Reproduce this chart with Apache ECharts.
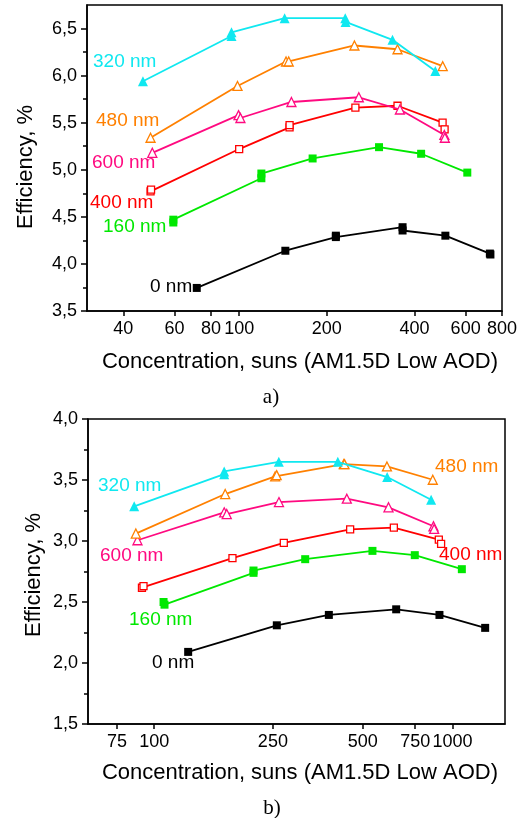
<!DOCTYPE html>
<html><head><meta charset="utf-8">
<script src="https://cdn.jsdelivr.net/npm/echarts@6/dist/echarts.min.js"></script>
<style>html,body{margin:0;padding:0;background:#fff}#c{width:523px;height:818px}</style>
</head><body><div id="c"></div>
<script>
// ---------- data ----------
const seriesNames = ['320 nm', '480 nm', '600 nm', '400 nm', '160 nm', '0 nm'];

// Panel a) : [concentration (suns), efficiency (%)]
const a_320 = [[46.7,5.94],[94.1,6.42],[94.1,6.46],[143.3,6.61],[231.5,6.61],[232,6.57],[336.4,6.38],[472,6.05]];
const a_480 = [[49.6,5.34],[98.7,5.89],[144.9,6.15],[148,6.15],[248.9,6.32],[350,6.28],[500.5,6.10]];
const a_600 = [[50.3,5.18],[99.5,5.58],[101,5.55],[151.2,5.72],[257.7,5.77],[356.7,5.64],[507,5.37],[509,5.34]];
const a_400 = [[49.6,4.77],[49.8,4.79],[100,5.22],[149,5.45],[149,5.475],[250.8,5.66],[350,5.68],[500,5.50],[508,5.43]];
const a_160 = [[59.4,4.44],[59.4,4.47],[119.2,4.91],[119.2,4.96],[178.8,5.12],[302.4,5.24],[421.9,5.17],[607.9,4.97]];
const a_0   = [[71.5,3.745],[144.1,4.14],[214.9,4.285],[214.9,4.30],[364.3,4.39],[364.3,4.355],[511.1,4.30],[726.7,4.11],[730,4.10]];

// Panel b)
const b_320 = [[85.7,3.284],[171.7,3.548],[171.7,3.57],[261.7,3.649],[412.7,3.649],[604,3.524],[848,3.338]];
const b_480 = [[86.8,3.061],[173,3.385],[254.4,3.529],[257.4,3.54],[432,3.63],[434.5,3.63],[603,3.611],[859,3.502]];
const b_600 = [[87.9,3.006],[171.7,3.235],[175.1,3.221],[262,3.319],[442.4,3.347],[610.3,3.276],[863.7,3.121],[868,3.099]];
const b_400 = [[91,2.617],[92.1,2.63],[183,2.859],[272,2.984],[453.9,3.096],[636,3.11],[900,3.012],[916,2.976]];
const b_160 = [[107.5,2.50],[108.3,2.478],[215.3,2.739],[215.3,2.758],[320.8,2.851],[539.2,2.919],[747.6,2.884],[1075,2.769]];
const b_0   = [[130,2.091],[257.7,2.309],[385.1,2.394],[647.6,2.44],[904.4,2.394],[1287,2.288]];

// Tick values
const xTicksA = [40, 60, 80, 100, 200, 400, 600, 800];
const xTicksB = [75, 100, 250, 500, 750, 1000];
const yTicksA = [3.5, 4.0, 4.5, 5.0, 5.5, 6.0, 6.5];
const yMinorA = [3.75, 4.25, 4.75, 5.25, 5.75, 6.25];
const yTicksB = [1.5, 2.0, 2.5, 3.0, 3.5, 4.0];
const yMinorB = [1.75, 2.25, 2.75, 3.25, 3.75];

const xTitle = 'Concentration, suns (AM1.5D Low AOD)';
const yTitle = 'Efficiency, %';

// ---------- styles ----------
const FONT = '"Liberation Sans", Arial, sans-serif';
const colors = ['#10E8F0', '#FF8000', '#FF0A80', '#FF0000', '#00E800', '#000000'];
const symbols = ['triangle', 'triangle', 'triangle', 'rect', 'rect', 'rect'];
const filled = [true, false, false, false, true, true];
const symSize = [10, 9, 9, 7, 8, 8];

const dataA = [a_320, a_480, a_600, a_400, a_160, a_0];
const dataB = [b_320, b_480, b_600, b_400, b_160, b_0];

function mkSeries(data, i, gi) {
  return {
    name: seriesNames[i] + (gi ? ' b' : ' a'),
    type: 'line',
    xAxisIndex: gi, yAxisIndex: gi * 2,
    data: data,
    symbol: symbols[i],
    symbolSize: symSize[i],
    showAllSymbol: true,
    lineStyle: { color: colors[i], width: 1.8 },
    itemStyle: filled[i]
      ? { color: colors[i], borderWidth: 0 }
      : { color: '#ffffff', borderColor: colors[i], borderWidth: 1.3 },
    emphasis: { disabled: true },
    z: 10 - i
  };
}

const fmtY = v => Number(v).toFixed(1).replace('.', ',');
const lineSt = { color: '#000', width: 1.5 };

function xAxisCfg(gi, min, max, ticks) {
  return {
    type: 'log', logBase: 10, gridIndex: gi, min: min, max: max, position: 'bottom',
    axisLine: { onZero: false, lineStyle: lineSt },
    axisTick: { show: true, customValues: ticks, length: 5, lineStyle: lineSt },
    axisLabel: { customValues: ticks, fontSize: 18, color: '#000', fontFamily: FONT, margin: 9,
                 formatter: v => String(Math.round(v)) },
    splitLine: { show: false }, minorTick: { show: false }
  };
}
function yAxisCfg(gi, min, max, ticks) {
  return {
    type: 'value', gridIndex: gi, min: min, max: max, interval: 0.5, position: 'left',
    axisLine: { show: true, onZero: false, lineStyle: lineSt },
    axisTick: { show: true, customValues: ticks, length: 6, lineStyle: lineSt },
    axisLabel: { customValues: ticks, fontSize: 18, color: '#000', fontFamily: FONT, margin: 10, formatter: fmtY },
    splitLine: { show: false }
  };
}
function yMinorCfg(gi, min, max, ticks) {
  return {
    type: 'value', gridIndex: gi, min: min, max: max, interval: 0.5, position: 'left', offset: 0,
    axisLine: { show: false, onZero: false },
    axisTick: { show: true, customValues: ticks, length: 4, lineStyle: lineSt },
    axisLabel: { show: false },
    splitLine: { show: false }
  };
}

function txt(x, y, s, color, size, family, rot) {
  return {
    type: 'text', x: x, y: y, rotation: rot || 0, z: 100,
    style: { text: s, fill: color, fontSize: size, fontFamily: family || FONT,
             align: rot ? 'center' : 'left', verticalAlign: 'middle' }
  };
}

const option = {
  animation: false,
  backgroundColor: '#fff',
  grid: [
    { left: 87, top: 5, width: 415, height: 306, show: true, borderColor: '#000', borderWidth: 1.5, backgroundColor: 'transparent' },
    { left: 88, top: 419, width: 417, height: 305, show: true, borderColor: '#000', borderWidth: 1.5, backgroundColor: 'transparent' }
  ],
  xAxis: [ xAxisCfg(0, 30, 800, xTicksA), xAxisCfg(1, 60, 1500, xTicksB) ],
  yAxis: [
    yAxisCfg(0, 3.5, 6.75, yTicksA), yMinorCfg(0, 3.5, 6.75, yMinorA),
    yAxisCfg(1, 1.5, 4.0, yTicksB), yMinorCfg(1, 1.5, 4.0, yMinorB)
  ],
  series: [
    ...dataA.map((d, i) => mkSeries(d, i, 0)),
    ...dataB.map((d, i) => mkSeries(d, i, 1))
  ],
  graphic: [
    // panel a labels
    txt(93, 62, seriesNames[0], colors[0], 19),
    txt(96, 121, seriesNames[1], colors[1], 19),
    txt(92, 163, seriesNames[2], colors[2], 19),
    txt(90, 203, seriesNames[3], colors[3], 19),
    txt(103, 227, seriesNames[4], colors[4], 19),
    txt(150, 287, seriesNames[5], colors[5], 19),
    // panel b labels
    txt(98, 486, seriesNames[0], colors[0], 19),
    txt(435, 467, seriesNames[1], colors[1], 19),
    txt(100, 556, seriesNames[2], colors[2], 19),
    txt(439, 555, seriesNames[3], colors[3], 19),
    txt(129, 620, seriesNames[4], colors[4], 19),
    txt(152, 663, seriesNames[5], colors[5], 19),
    // axis titles
    txt(26, 167, yTitle, '#000', 22, FONT, Math.PI / 2),
    txt(34, 575, yTitle, '#000', 22, FONT, Math.PI / 2),
    { type: 'text', x: 300, y: 362, z: 100, style: { text: xTitle, fill: '#000', fontSize: 22, fontFamily: FONT, align: 'center', verticalAlign: 'middle' } },
    { type: 'text', x: 300, y: 773, z: 100, style: { text: xTitle, fill: '#000', fontSize: 22, fontFamily: FONT, align: 'center', verticalAlign: 'middle' } },
    { type: 'text', x: 271, y: 397, z: 100, style: { text: 'a)', fill: '#000', fontSize: 21, fontFamily: '"Liberation Serif", "Times New Roman", serif', align: 'center', verticalAlign: 'middle' } },
    { type: 'text', x: 272, y: 808, z: 100, style: { text: 'b)', fill: '#000', fontSize: 21, fontFamily: '"Liberation Serif", "Times New Roman", serif', align: 'center', verticalAlign: 'middle' } }
  ]
};

const chart = echarts.init(document.getElementById('c'), null, { renderer: 'canvas' });
chart.setOption(option);
</script>
</body></html>
